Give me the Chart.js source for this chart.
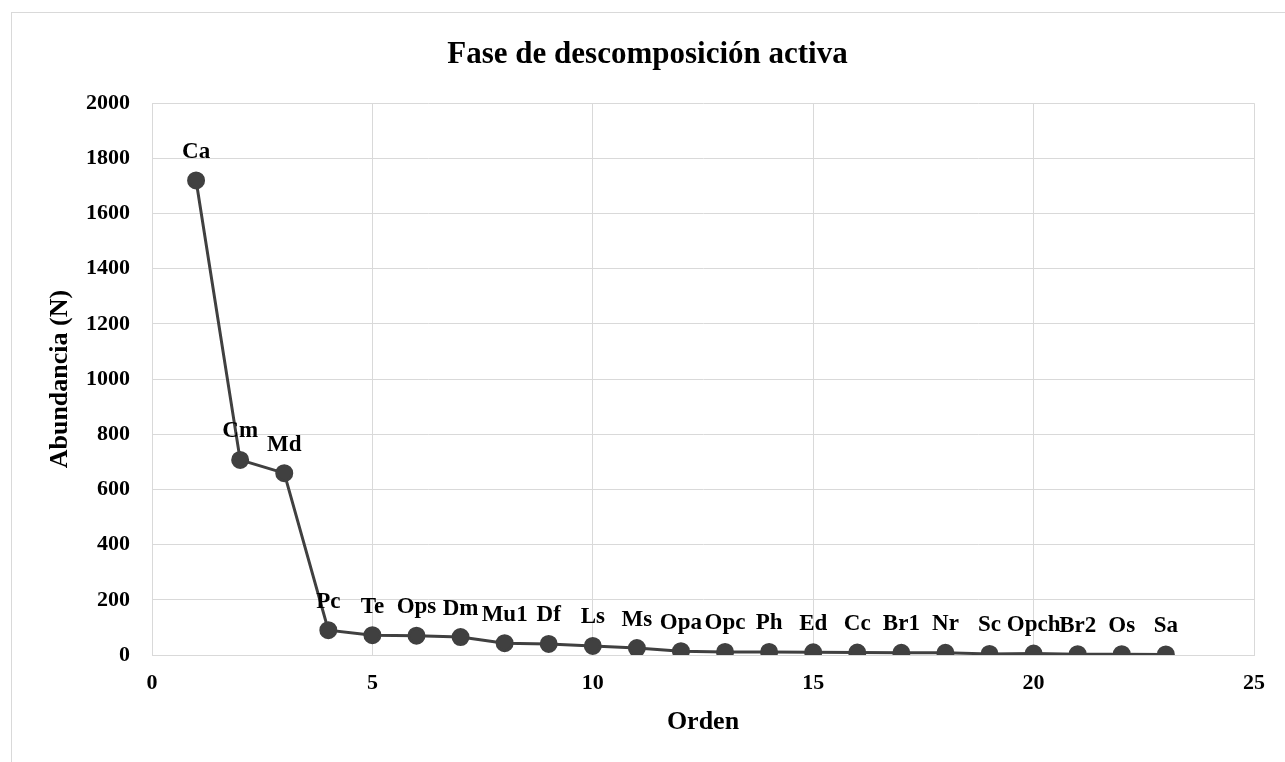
<!DOCTYPE html>
<html>
<head>
<meta charset="utf-8">
<script src="https://cdn.jsdelivr.net/npm/chart.js@4.4.1/dist/chart.umd.min.js"></script>
<style>
  html, body { margin: 0; padding: 0; background: #fff; }
  #wrap { position: relative; width: 1285px; height: 762px; overflow: hidden; }
  #frame { position: absolute; left: 11px; top: 12px; width: 1300px; height: 800px; border: 1px solid #d9d9d9; box-sizing: border-box; }
  canvas { position: absolute; left: 0; top: 0; }
</style>
</head>
<body>
<div id="wrap">
  <div id="frame"></div>
  <canvas id="chart" width="1285" height="762"></canvas>
</div>
<script>
// especies por orden de abundancia
const especies = ["Ca", "Cm", "Md", "Pc", "Te", "Ops", "Dm", "Mu1", "Df", "Ls", "Ms", "Opa", "Opc", "Ph", "Ed", "Cc", "Br1", "Nr", "Sc", "Opch", "Br2", "Os", "Sa"];
const orden = [1, 2, 3, 4, 5, 6, 7, 8, 9, 10, 11, 12, 13, 14, 15, 16, 17, 18, 19, 20, 21, 22, 23];
const abundancia = [1720, 707, 659, 90, 72, 70, 65, 43, 40, 33, 25, 14, 11, 11, 10, 9, 8, 8, 4, 5, 3, 3, 2];

const serif = "'Liberation Serif', 'Times New Roman', serif";

const puntos = orden.map((x, i) => ({ x, y: abundancia[i] }));

// etiquetas encima de cada punto
const etiquetas = {
  id: "etiquetas",
  afterDatasetsDraw(chart) {
    const ctx = chart.ctx;
    const meta = chart.getDatasetMeta(0);
    ctx.save();
    ctx.font = "bold 23px " + serif;
    ctx.fillStyle = "#000";
    ctx.textAlign = "center";
    ctx.textBaseline = "bottom";
    meta.data.forEach((pt, i) => {
      ctx.fillText(especies[i], pt.x, pt.y - 17);
    });
    ctx.restore();
  }
};

new Chart(document.getElementById("chart"), {
  type: "scatter",
  data: {
    datasets: [{
      data: puntos,
      showLine: true,
      borderColor: "#404040",
      backgroundColor: "#404040",
      borderWidth: 3,
      pointRadius: 7.5,
      pointHoverRadius: 7.5
    }]
  },
  options: {
    responsive: false,
    animation: false,
    layout: { padding: { left: 41, right: 31, top: 0, bottom: 20 } },
    plugins: {
      legend: { display: false },
      tooltip: { enabled: false },
      title: {
        display: true,
        text: "Fase de descomposición activa",
        color: "#000",
        font: { family: serif, size: 31, weight: "bold" },
        padding: { top: 36, bottom: 30 }
      }
    },
    scales: {
      x: {
        type: "linear",
        min: 0,
        max: 25,
        ticks: { stepSize: 5, color: "#000", font: { family: serif, size: 22, weight: "bold" }, padding: 15 },
        grid: { color: "#d9d9d9", lineWidth: 1, drawTicks: false },
        border: { color: "#d9d9d9" },
        title: { display: true, text: "Orden", color: "#000", font: { family: serif, size: 26, weight: "bold" } },
        afterFit(s) { s.height = 87; }
      },
      y: {
        min: 0,
        max: 2000,
        ticks: {
          stepSize: 200,
          color: "#000",
          font: { family: serif, size: 22, weight: "bold" },
          padding: 22,
          callback: (v) => String(v)
        },
        grid: { color: "#d9d9d9", lineWidth: 1, drawTicks: false },
        border: { color: "#d9d9d9" },
        title: { display: true, text: "Abundancia (N)", color: "#000", font: { family: serif, size: 26, weight: "bold" } },
        afterFit(s) { s.width = 111; }
      }
    }
  },
  plugins: [etiquetas]
});
</script>
</body>
</html>
